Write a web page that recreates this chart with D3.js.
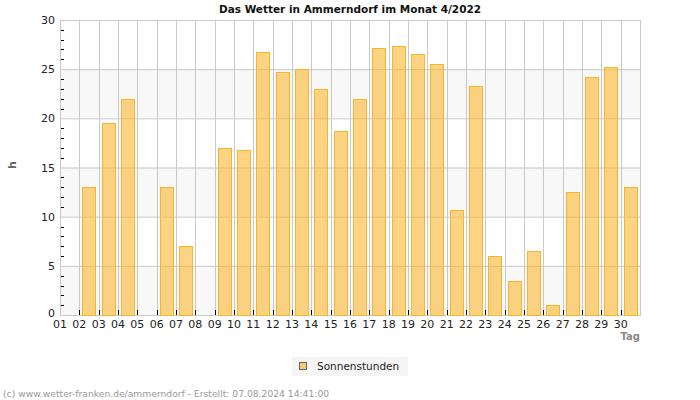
<!DOCTYPE html>
<html><head><meta charset="utf-8">
<script src="https://cdn.jsdelivr.net/npm/d3@7"></script>
<style>body{margin:0;background:#fff}svg{display:block;font-family:"DejaVu Sans",Verdana,sans-serif}</style>
</head><body><div id="chart"></div>
<script>
const days = ["01","02","03","04","05","06","07","08","09","10","11","12","13","14","15","16","17","18","19","20","21","22","23","24","25","26","27","28","29","30"];
const sunHours = [0,13,19.5,22,0,13,7,0,17,16.8,26.7,24.7,25,23,18.7,22,27.2,27.4,26.5,25.5,10.7,23.3,6,3.5,6.5,1,12.5,24.2,25.2,13];
const yTicks = [0,5,10,15,20,25,30];
const title = "Das Wetter in Ammerndorf im Monat 4/2022";
const seriesName = "Sonnenstunden";
const footer = "(c) www.wetter-franken.de/ammerndorf - Erstellt: 07.08.2024 14:41:00";

const W=700,H=400, L=60,R=640,T=20,B=315;
const svg=d3.select("#chart").append("svg").attr("width",W).attr("height",H);
const xg=d3.scaleBand().domain(days).range([L,R]);
const y=d3.scaleLinear().domain([0,30]).range([B,T]);

// background bands
for(let i=0;i<yTicks.length-1;i++){
  if(i%2===0) svg.append("rect").attr("x",L).attr("y",y(yTicks[i+1])).attr("width",R-L).attr("height",y(yTicks[i])-y(yTicks[i+1])).attr("fill","#f8f8f8");
}
// grid
svg.append("g").selectAll("line").data(yTicks).join("line")
  .attr("x1",L).attr("x2",R).attr("y1",d=>y(d)+0.5).attr("y2",d=>y(d)+0.5).attr("stroke","#c8c8c8");
svg.append("g").selectAll("line").data(days).join("line")
  .attr("x1",d=>Math.round(xg(d))+0.5).attr("x2",d=>Math.round(xg(d))+0.5).attr("y1",T).attr("y2",B).attr("stroke","#c8c8c8");
svg.append("rect").attr("x",L+0.5).attr("y",T+0.5).attr("width",R-L).attr("height",B-T).attr("fill","none").attr("stroke","#c8c8c8");

// bars
svg.append("g").selectAll("rect").data(days.map((d,i)=>({d,v:sunHours[i]})).filter(o=>o.v>0)).join("rect")
  .attr("x",o=>Math.round(xg(o.d)+(xg.bandwidth()-13.5)/2)+0.5).attr("width",13).attr("y",o=>Math.round(y(o.v))+0.5).attr("height",o=>B-Math.round(y(o.v)))
  .attr("fill","rgba(251,183,50,0.6)").attr("stroke","#f7b52b").attr("stroke-width",1);

// y minor ticks
const minor=d3.range(0,31,1).filter(v=>v%5!==0);
svg.append("g").selectAll("line").data(minor).join("line")
  .attr("x1",L+1).attr("x2",L+4).attr("y1",d=>Math.round(y(d))+0.5).attr("y2",d=>Math.round(y(d))+0.5).attr("stroke","#000");
// x ticks
svg.append("g").selectAll("line").data(days.slice(1)).join("line")
  .attr("x1",d=>Math.round(xg(d))+0.5).attr("x2",d=>Math.round(xg(d))+0.5).attr("y1",B-5).attr("y2",B).attr("stroke","#000");

// y labels
svg.append("g").selectAll("text").data(yTicks).join("text")
  .attr("x",L-5).attr("y",d=>y(d)+(d===0?2:4)).attr("text-anchor","end").attr("font-size",11).attr("fill","#222").text(d=>d);
// x labels
svg.append("g").selectAll("text").data(days).join("text")
  .attr("x",d=>xg(d)).attr("y",B+13).attr("text-anchor","middle").attr("font-size",11).attr("fill","#222").text(d=>d);

svg.append("text").attr("x",640).attr("y",13).attr("x",350).attr("text-anchor","middle").attr("font-size",10.5).attr("font-weight","bold").attr("fill","#111").text(title);
svg.append("text").attr("x",640).attr("y",339.5).attr("text-anchor","end").attr("font-size",10).attr("font-weight","bold").attr("fill","#888").text("Tag");
svg.append("text").attr("transform","translate(16,165) rotate(-90)").attr("text-anchor","middle").attr("font-size",11).attr("font-weight","bold").attr("fill","#666").text("h");

// legend
svg.append("rect").attr("x",292).attr("y",357).attr("width",116).attr("height",19).attr("fill","#f5f5f5");
svg.append("rect").attr("x",299.5).attr("y",362.5).attr("width",7).attr("height",7).attr("fill","#fbc86a").attr("stroke","#666");
svg.append("text").attr("x",317).attr("y",370).attr("font-size",10.5).attr("fill","#222").text(seriesName);

svg.append("text").attr("x",3).attr("y",397).attr("font-size",9.2).attr("fill","#999").text(footer);
</script></body></html>
